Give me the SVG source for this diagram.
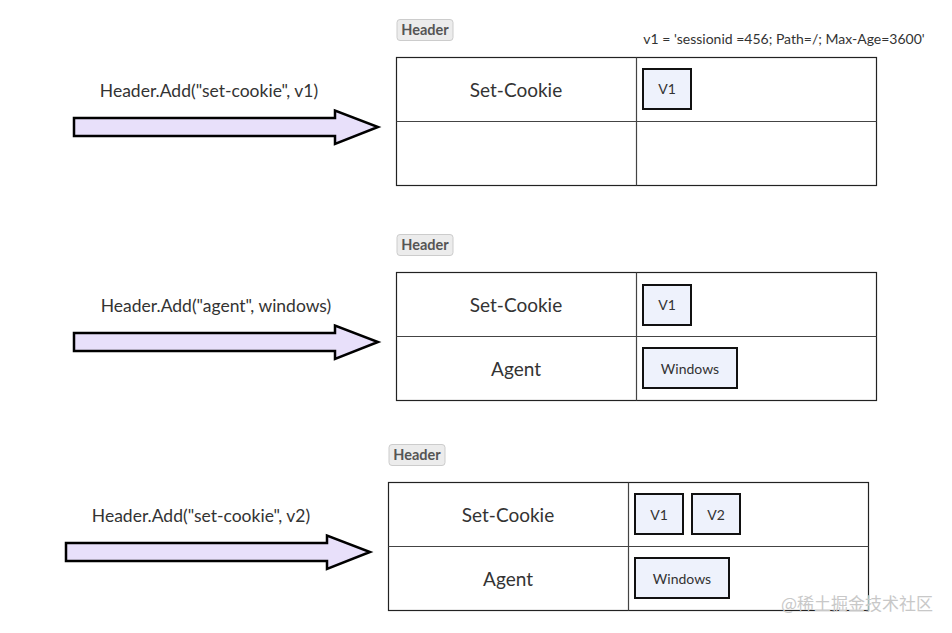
<svg xmlns="http://www.w3.org/2000/svg" width="952" height="633" viewBox="0 0 952 633">
<style>
.t{font-family:"Source Sans Pro","Lato","Noto Sans",sans-serif;fill:#333}
.lbl{font-size:17.5px}
.cell{font-size:19px;text-anchor:middle}
.val{font-size:14px;text-anchor:middle}
.hdr{font-size:14.5px;font-weight:bold;fill:#555;text-anchor:middle}
.tbl{fill:#fff;stroke:#222;stroke-width:1.2}
.ln{stroke:#444;stroke-width:1.2}
.box{fill:#eef2fc;stroke:#111;stroke-width:2}
.tag{fill:#ececec;stroke:#ccc;stroke-width:1}
.arr{fill:#e8e0fa;stroke:#000;stroke-width:2.5;stroke-linejoin:miter}
</style>
<rect width="952" height="633" fill="#fff"/>
<g id="connectors">
<path class="arr" d="M74,118 H335 V110.5 L378,127 L335,144 V136 H74 Z"/>
<path class="arr" d="M74,333 H335 V325.5 L378,342 L335,359 V351 H74 Z"/>
<path class="arr" d="M66,543 H327 V535.5 L370,552 L327,569 V561 H66 Z"/>
<text class="t lbl" x="209" y="97" text-anchor="middle">Header.Add("set-cookie", v1)</text>
<text class="t lbl" x="216" y="312" text-anchor="middle">Header.Add("agent", windows)</text>
<text class="t lbl" x="201" y="522" text-anchor="middle">Header.Add("set-cookie", v2)</text>
</g>
<g id="header1">
<rect class="tag" x="397" y="19.5" width="56" height="21" rx="3"/>
<text class="t hdr" x="425" y="35">Header</text>
<text class="t" x="784" y="44" font-size="14" text-anchor="middle">v1 = 'sessionid =456; Path=/; Max-Age=3600'</text>
<rect class="tbl" x="396.5" y="57.5" width="480" height="128"/>
<line class="ln" x1="396.5" y1="121.5" x2="876.5" y2="121.5"/>
<line class="ln" x1="636.5" y1="57.5" x2="636.5" y2="185.5"/>
<text class="t cell" x="516" y="97">Set-Cookie</text>
<rect class="box" x="643" y="69" width="48" height="40"/>
<text class="t val" x="667" y="94">V1</text>
</g>
<g id="header2">
<rect class="tag" x="397" y="234.5" width="56" height="21" rx="3"/>
<text class="t hdr" x="425" y="250">Header</text>
<rect class="tbl" x="396.5" y="272.5" width="480" height="128"/>
<line class="ln" x1="396.5" y1="336.5" x2="876.5" y2="336.5"/>
<line class="ln" x1="636.5" y1="272.5" x2="636.5" y2="400.5"/>
<text class="t cell" x="516" y="312">Set-Cookie</text>
<text class="t cell" x="516" y="376">Agent</text>
<rect class="box" x="643" y="285" width="48" height="40"/>
<text class="t val" x="667" y="310">V1</text>
<rect class="box" x="643" y="348" width="94" height="40"/>
<text class="t val" x="690" y="374">Windows</text>
</g>
<g id="header3">
<rect class="tag" x="389" y="444.5" width="56" height="21" rx="3"/>
<text class="t hdr" x="417" y="460">Header</text>
<rect class="tbl" x="388.5" y="482.5" width="480" height="128"/>
<line class="ln" x1="388.5" y1="546.5" x2="868.5" y2="546.5"/>
<line class="ln" x1="628.5" y1="482.5" x2="628.5" y2="610.5"/>
<text class="t cell" x="508" y="522">Set-Cookie</text>
<text class="t cell" x="508" y="586">Agent</text>
<rect class="box" x="635" y="494" width="48" height="40"/>
<text class="t val" x="659" y="520">V1</text>
<rect class="box" x="692" y="494" width="48" height="40"/>
<text class="t val" x="716" y="520">V2</text>
<rect class="box" x="635" y="558" width="94" height="40"/>
<text class="t val" x="682" y="584">Windows</text>
</g>
<text x="933" y="610" font-family="'Noto Sans CJK SC',sans-serif" font-size="17" fill="#c8c8c8" text-anchor="end">@稀土掘金技术社区</text>
</svg>
